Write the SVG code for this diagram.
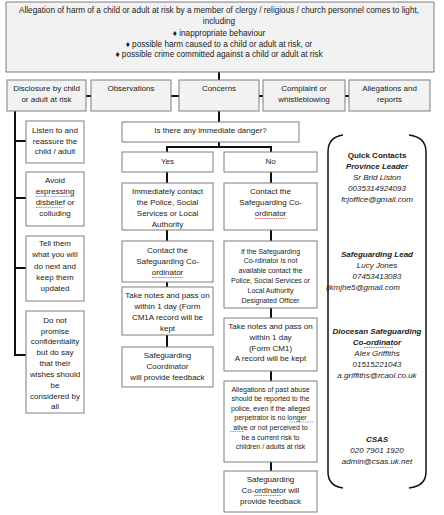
<svg xmlns="http://www.w3.org/2000/svg" width="444" height="515" viewBox="0 0 444 515">
<style>
text{font-family:"Liberation Sans",Arial,sans-serif;font-size:8px;fill:#222;text-anchor:middle}
.sm{font-size:7px}
.tp{font-size:8.2px}
.g{fill:#f2f2f2;stroke:#7f7f7f;stroke-width:1}
.w{fill:#fff;stroke:#7f7f7f;stroke-width:1}
.c{stroke:#111;stroke-width:2;fill:none}
.br{stroke:#111;stroke-width:1.5;fill:none}
.ci{font-style:italic}
.cb{font-weight:bold}
.sq{stroke-width:0.8;fill:none;stroke-dasharray:1.5 0.8}
.blue{stroke:#6b8fd6}
.red{stroke:#e04040}
</style>
<rect width="444" height="515" fill="#fff"/>
<g id="connectors">
<path class="c" d="M219 72V80"/>
<path class="c" d="M86 96H91M171 96H179M259 96H263M345 96H349"/>
<path class="c" d="M219 111V122"/>
<path class="c" d="M15 111V355H26M15 141H26M15 198H26M15 268H26"/>
<path class="c" d="M219 142V147M167 147H271M167 146V152M271 146V152"/>
<path class="c" d="M167 172V183M167 230V241M167 282V287M167 335V347"/>
<path class="c" d="M271 172V183M271 230V241M271 308V318M271 371V381M271 462V471"/>
</g>
<g id="top">
<rect class="g" x="6" y="2" width="428" height="70"/>
<text class="tp" x="219" y="13">Allegation of harm of a child or adult at risk by a member of clergy / religious / church personnel comes to light,</text>
<text class="tp" x="219" y="24">including</text>
<text class="tp" x="219" y="36">♦ inappropriate behaviour</text>
<text class="tp" x="219" y="47">♦ possible harm caused to a child or adult at risk, or</text>
<text class="tp" x="219" y="57">♦ possible crime committed against a child or adult at risk</text>
</g>
<g id="disclosure">
<rect class="g" x="7" y="80" width="79" height="31"/>
<text x="46.5" y="91">Disclosure by child</text>
<text x="46.5" y="102">or adult at risk</text>
</g>
<g id="observations">
<rect class="g" x="91" y="80" width="80" height="31"/>
<text x="131" y="91">Observations</text>
</g>
<g id="concerns">
<rect class="g" x="179" y="80" width="80" height="31"/>
<text x="219" y="91">Concerns</text>
</g>
<g id="complaint">
<rect class="g" x="263" y="80" width="82" height="31"/>
<text x="304" y="91">Complaint or</text>
<text x="304" y="102">whistleblowing</text>
</g>
<g id="allegations">
<rect class="g" x="349" y="80" width="81" height="31"/>
<text x="389.5" y="91">Allegations and</text>
<text x="389.5" y="102">reports</text>
</g>
<g id="listen">
<rect class="w" x="26" y="121" width="58" height="42"/>
<text x="55" y="133">Listen to and</text>
<text x="55" y="144">reassure the</text>
<text x="55" y="154">child / adult</text>
</g>
<g id="avoid">
<rect class="w" x="26" y="172" width="58" height="54"/>
<text x="55" y="183">Avoid</text>
<text x="55" y="194">expressing</text>
<text x="55" y="205">disbelief or</text>
<text x="55" y="216">colluding</text>
<path class="sq blue" d="M36 196.5H75M36 207.5H64"/>
</g>
<g id="tell">
<rect class="w" x="26" y="236" width="58" height="65"/>
<text x="55" y="246">Tell them</text>
<text x="55" y="257">what you will</text>
<text x="55" y="269">do next and</text>
<text x="55" y="280">keep them</text>
<text x="55" y="291">updated</text>
</g>
<g id="promise">
<rect class="w" x="26" y="311" width="58" height="102"/>
<text x="55" y="323">Do not</text>
<text x="55" y="334">promise</text>
<text x="55" y="344">confidentiality</text>
<text x="55" y="355">but do say</text>
<text x="55" y="366">that their</text>
<text x="55" y="377">wishes should</text>
<text x="55" y="388">be</text>
<text x="55" y="399">considered by</text>
<text x="55" y="409">all</text>
</g>
<g id="danger">
<rect class="w" x="122" y="122" width="177" height="20"/>
<text x="210.5" y="133">Is there any immediate danger?</text>
</g>
<g id="yes">
<rect class="w" x="122" y="152" width="91" height="20"/>
<text x="167.5" y="164">Yes</text>
</g>
<g id="no">
<rect class="w" x="224" y="152" width="93" height="20"/>
<text x="270.5" y="164">No</text>
</g>
<g id="immediately">
<rect class="w" x="122" y="183" width="91" height="47"/>
<text x="167.5" y="194">Immediately contact</text>
<text x="167.5" y="205">the Police, Social</text>
<text x="167.5" y="216">Services or Local</text>
<text x="167.5" y="227">Authority</text>
</g>
<g id="contact-no">
<rect class="w" x="224" y="183" width="93" height="47"/>
<text x="270.5" y="194">Contact the</text>
<text x="270.5" y="205">Safeguarding Co-</text>
<text x="270.5" y="216">ordinator</text>
<path class="sq red" d="M255 218.5H286"/>
</g>
<g id="contact-yes">
<rect class="w" x="122" y="241" width="91" height="41"/>
<text x="167.5" y="253">Contact the</text>
<text x="167.5" y="264">Safeguarding Co-</text>
<text x="167.5" y="275">ordinator</text>
<path class="sq red" d="M152 277.5H183"/>
</g>
<g id="ifnot">
<rect class="w" x="224" y="241" width="93" height="67"/>
<text class="sm" x="270.5" y="253.5">If the Safeguarding</text>
<text class="sm" x="270.5" y="263">Co-rdinator is not</text>
<text class="sm" x="270.5" y="273">available contact the</text>
<text class="sm" x="270.5" y="283">Police, Social Services or</text>
<text class="sm" x="270.5" y="293">Local Authority</text>
<text class="sm" x="270.5" y="303">Designated Officer</text>
</g>
<g id="notes-yes">
<rect class="w" x="122" y="287" width="91" height="48"/>
<text x="167.5" y="298">Take notes and pass on</text>
<text x="167.5" y="309">within 1 day (Form</text>
<text x="167.5" y="320">CM1A record will be</text>
<text x="167.5" y="331">kept</text>
</g>
<g id="feedback-yes">
<rect class="w" x="122" y="347" width="91" height="40"/>
<text x="167.5" y="358">Safeguarding</text>
<text x="167.5" y="369">Coordinator</text>
<text x="167.5" y="380">will provide feedback</text>
</g>
<g id="notes-no">
<rect class="w" x="224" y="318" width="93" height="53"/>
<text x="270.5" y="329">Take notes and pass on</text>
<text x="270.5" y="340">within 1 day</text>
<text x="270.5" y="351">(Form CM1)</text>
<text x="270.5" y="361">A record will be kept</text>
</g>
<g id="past">
<rect class="w" x="224" y="381" width="93" height="81"/>
<text class="sm" x="270.5" y="391.5">Allegations of past abuse</text>
<text class="sm" x="270.5" y="401">should be reported to the</text>
<text class="sm" x="270.5" y="410.5">police, even if the alleged</text>
<text class="sm" x="270.5" y="420">perpetrator is no longer</text>
<text class="sm" x="270.5" y="430">alive or not perceived to</text>
<text class="sm" x="270.5" y="439.5">be a current risk to</text>
<text class="sm" x="270.5" y="449">children / adults at risk</text>
<path class="sq blue" d="M289 422H313M230 431.5H244"/>
</g>
<g id="feedback-no">
<rect class="w" x="224" y="471" width="93" height="41"/>
<text x="270.5" y="482">Safeguarding</text>
<text x="270.5" y="493">Co-ordinator will</text>
<text x="270.5" y="504">provide feedback</text>
<path class="sq red" d="M254 495.5H281"/>
</g>
<g id="contacts">
<path class="br" d="M343 135Q328 137 328 152V472Q328 486 343 488"/>
<path class="br" d="M409 135Q426 137 426 152V472Q426 486 409 488"/>
<text class="cb" x="377" y="158">Quick Contacts</text>
<text class="cb ci" x="377" y="169">Province Leader</text>
<text class="ci" x="377" y="180">Sr Brid Liston</text>
<text class="ci" x="377" y="191">0035314924093</text>
<text class="ci" x="377" y="202">fcjoffice@gmail.com</text>
<text class="cb ci" x="377" y="257">Safeguarding Lead</text>
<text class="ci" x="377" y="268">Lucy Jones</text>
<text class="ci" x="377" y="279">07453413083</text>
<text class="ci" x="363" y="290">ljkmjhe5@gmail.com</text>
<text class="cb ci" x="377" y="334">Diocesan Safeguarding</text>
<text class="cb ci" x="377" y="345">Co-ordinator</text>
<path class="sq red" d="M364 347.5H393"/>
<text class="ci" x="377" y="356">Alex Griffiths</text>
<text class="ci" x="377" y="367">01515221043</text>
<text class="ci" x="377" y="378">a.griffiths@rcaol.co.uk</text>
<text class="cb ci" x="377" y="442">CSAS</text>
<text class="ci" x="377" y="453">020 7901 1920</text>
<text class="ci" x="377" y="464">admin@csas.uk.net</text>
</g>
</svg>
